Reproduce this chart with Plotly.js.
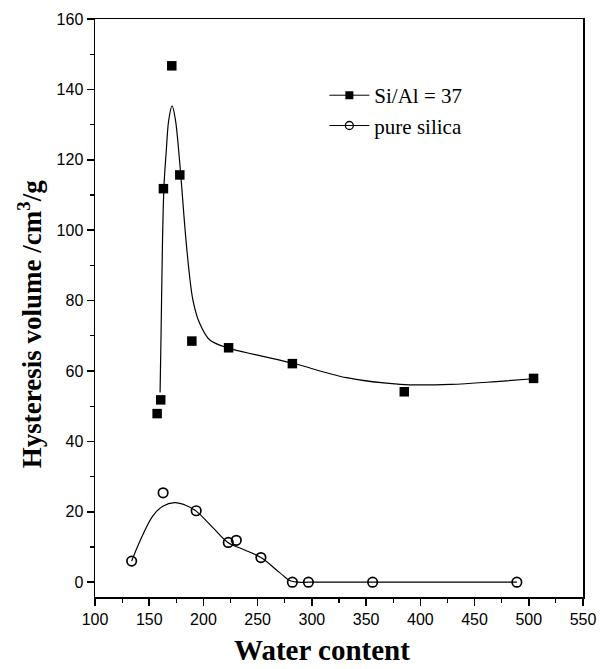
<!DOCTYPE html>
<html>
<head>
<meta charset="utf-8">
<script src="https://cdn.plot.ly/plotly-3.0.1.min.js"></script>
<style>html,body{margin:0;padding:0;background:#fff;}#chart{width:600px;height:669px;}</style>
</head>
<body>
<div id="chart"></div>
<script>
// Measured points: Si/Al = 37
const siAlX = [157.3, 160.6, 163.1, 170.8, 178.2, 189.3, 223.2, 282.0, 385.2, 504.4];
const siAlY = [47.9, 51.8, 111.8, 146.7, 115.7, 68.5, 66.6, 62.1, 54.1, 57.9];
// Smoothed curve: Si/Al = 37
const siAlCurveX = [160.0, 161.0, 162.2, 163.6, 165.6, 168.0, 171.1, 174.2, 177.9, 184.7, 190.2, 196.3, 205.6, 223.2, 250.0, 282.5, 331.9, 381.8, 428.0, 470.0, 504.4];
const siAlCurveY = [53.9, 72.0, 96.0, 112.5, 122.0, 131.3, 135.3, 131.3, 120.0, 94.5, 80.3, 73.7, 68.9, 66.5, 64.5, 62.2, 58.1, 56.2, 56.2, 57.0, 57.8];
// Measured points: pure silica
const silicaX = [133.8, 162.8, 193.3, 222.9, 230.3, 253.0, 282.0, 296.8, 356.0, 489.0];
const silicaY = [6.0, 25.4, 20.3, 11.3, 11.9, 7.0, 0.0, 0.0, 0.0, 0.0];
// Smoothed curve: pure silica
const silicaCurveX = [133.8, 140.9, 153.2, 162.5, 173.3, 184.1, 193.3, 208.7, 222.5, 237.0, 253.0, 270.0, 280.0, 287.0, 296.8, 356.0, 489.0];
const silicaCurveY = [6.0, 11.3, 18.8, 21.6, 22.6, 21.8, 20.2, 15.5, 11.3, 9.3, 7.0, 2.8, 0.4, 0.0, 0.0, 0.0, 0.0];

const seriesNames = ['Si/Al = 37', 'pure silica'];
const xTitle = 'Water content';
const yTitle = 'Hysteresis volume /cm<sup>3</sup>/g';

const serif = 'Liberation Serif, Times New Roman, serif';
const sans = 'Liberation Sans, Arial, sans-serif';

const traces = [
  {x: siAlCurveX, y: siAlCurveY, mode: 'lines', line: {color: '#000', width: 1.2, shape: 'spline', smoothing: 0.9}, showlegend: false, hoverinfo: 'skip'},
  {x: siAlX, y: siAlY, mode: 'markers', marker: {symbol: 'square', size: 9.5, color: '#000'}, showlegend: false},
  {x: silicaCurveX, y: silicaCurveY, mode: 'lines', line: {color: '#000', width: 1.2, shape: 'spline', smoothing: 1}, showlegend: false, hoverinfo: 'skip'},
  {x: silicaX, y: silicaY, mode: 'markers', marker: {symbol: 'circle-open', size: 9.5, color: '#000', line: {width: 1.7, color: '#000'}}, showlegend: false},
  // legend entries
  {x: [null], y: [null], name: seriesNames[0], mode: 'lines+markers', line: {color: '#000', width: 1}, marker: {symbol: 'square', size: 8, color: '#000'}},
  {x: [null], y: [null], name: seriesNames[1], mode: 'lines+markers', line: {color: '#000', width: 1}, marker: {symbol: 'circle-open', size: 8, color: '#000', line: {width: 1.3, color: '#000'}}}
];

const layout = {
  width: 600, height: 669,
  margin: {l: 95, r: 17, t: 19, b: 72},
  paper_bgcolor: '#fff', plot_bgcolor: '#fff',
  showlegend: true,
  legend: {x: 0.47, y: 0.903, xanchor: 'left', yanchor: 'top', bgcolor: 'rgba(0,0,0,0)', font: {family: serif, size: 21, color: '#000'}, tracegroupgap: 0, itemwidth: 40},
  xaxis: {
    range: [100, 550], dtick: 50, tick0: 100,
    showgrid: false, zeroline: false,
    showline: true, linecolor: '#000', linewidth: 1.5, mirror: true,
    ticks: 'outside', ticklen: 7, tickwidth: 1.5, tickcolor: '#000',
    minor: {dtick: 25, ticks: 'outside', ticklen: 4, tickwidth: 1.2, tickcolor: '#000', showgrid: false},
    tickfont: {family: sans, size: 16, color: '#000'}
  },
  yaxis: {
    range: [-4.2, 160], dtick: 20, tick0: 0,
    showgrid: false, zeroline: false,
    showline: true, linecolor: '#000', linewidth: 1.5, mirror: true,
    ticks: 'outside', ticklen: 7, tickwidth: 1.5, tickcolor: '#000',
    minor: {dtick: 10, ticks: 'outside', ticklen: 4, tickwidth: 1.2, tickcolor: '#000', showgrid: false},
    tickfont: {family: sans, size: 16, color: '#000'}
  },
  annotations: [
    {text: xTitle, xref: 'paper', yref: 'paper', x: 0.465, y: -0.092, xanchor: 'center', yanchor: 'middle', showarrow: false,
     font: {family: serif, size: 29, color: '#000', weight: 'bold'}},
    {text: yTitle, xref: 'paper', yref: 'paper', x: -0.133, y: 0.472, xanchor: 'center', yanchor: 'middle', showarrow: false, textangle: -90,
     font: {family: serif, size: 27, color: '#000', weight: 'bold'}}
  ]
};

Plotly.newPlot('chart', traces, layout, {staticPlot: true, displayModeBar: false});
</script>
</body>
</html>
